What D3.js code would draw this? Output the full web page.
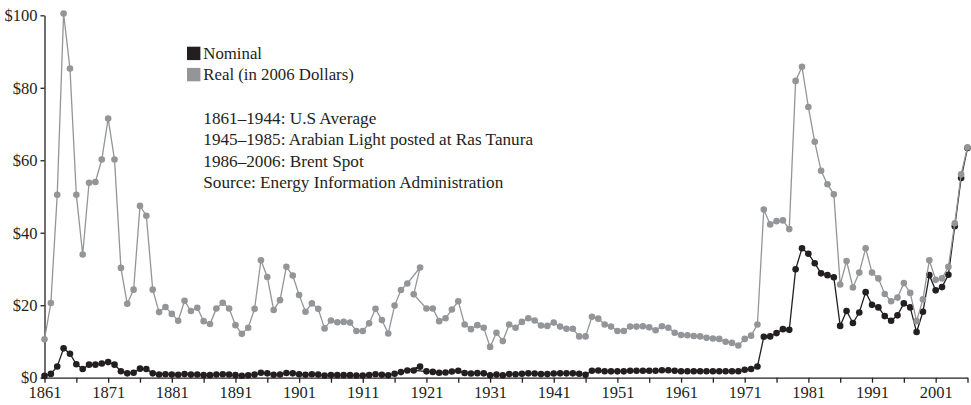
<!DOCTYPE html>
<html>
<head>
<meta charset="utf-8">
<script src="https://cdn.jsdelivr.net/npm/d3@7"></script>
<style>
  body { margin: 0; background: #fff; }
  svg { display: block; font-family: "Liberation Serif", serif; }
</style>
</head>
<body>
<svg id="chart" width="971" height="405"></svg>
<script>
// years 1861..2006
const years = d3.range(1861, 2007);

// nominal price, $/barrel
const nominal = [
  0.5, 1.05, 3.1, 8.1, 6.6, 3.7, 2.4, 3.6, 3.6, 3.9,
  4.3, 3.6, 1.8, 1.2, 1.35, 2.5, 2.4, 1.2, 0.9, 0.95,
  0.9, 0.8, 1.0, 0.85, 0.9, 0.7, 0.7, 0.9, 0.95, 0.9,
  0.7, 0.55, 0.65, 0.85, 1.35, 1.2, 0.8, 0.9, 1.3, 1.2,
  0.95, 0.8, 0.95, 0.85, 0.6, 0.75, 0.7, 0.7, 0.7, 0.6,
  0.6, 0.75, 0.95, 0.8, 0.65, 1.1, 1.55, 2.0, 2.0, 3.05,
  1.75, 1.6, 1.35, 1.45, 1.7, 1.9, 1.3, 1.15, 1.25, 1.2,
  0.65, 0.85, 0.65, 1.0, 0.95, 1.1, 1.2, 1.15, 1.0, 1.0,
  1.15, 1.2, 1.2, 1.2, 1.1, 0.8, 1.9, 2.0, 1.8, 1.75,
  1.75, 1.75, 1.9, 1.9, 1.9, 1.9, 1.9, 2.05, 2.05, 1.9,
  1.8, 1.8, 1.8, 1.8, 1.8, 1.8, 1.8, 1.8, 1.8, 1.8,
  2.2, 2.4, 3.1, 11.3, 11.4, 12.3, 13.4, 13.2, 29.9, 35.7,
  34.2, 31.6, 28.8, 28.3, 27.7, 14.3, 18.4, 15.1, 18.0, 23.6,
  20.1, 19.4, 17.0, 15.7, 17.2, 20.5, 19.4, 12.6, 18.2, 28.3,
  24.1, 25.0, 28.4, 41.8, 55.1, 63.4
];

// real price, 2006 dollars
const real = [
  10.6, 20.6, 50.5, 100.5, 85.3, 50.5, 34.0, 53.8, 54.0, 60.2,
  71.5, 60.2, 30.3, 20.4, 24.3, 47.4, 44.7, 24.3, 18.1, 19.5,
  17.6, 15.7, 21.2, 18.4, 19.3, 15.6, 14.8, 19.1, 20.7, 19.1,
  14.5, 12.1, 13.8, 19.0, 32.4, 27.8, 18.7, 21.4, 30.6, 28.2,
  22.8, 18.2, 20.5, 19.0, 13.6, 15.8, 15.3, 15.4, 15.2, 12.9,
  12.9, 15.0, 19.0, 15.9, 12.2, 19.9, 24.2, 26.0, 23.0, 30.4,
  19.1, 19.1, 15.6, 16.4, 18.8, 21.1, 14.7, 13.4, 14.5, 13.8,
  8.5, 12.4, 10.1, 14.7, 13.8, 15.4, 16.4, 15.8, 14.4, 14.3,
  15.2, 14.1, 13.5, 13.5, 11.4, 11.4, 16.8, 16.3, 14.7, 14.1,
  12.9, 12.9, 14.1, 14.1, 14.2, 13.9, 13.1, 14.2, 13.8, 12.4,
  11.8, 11.7, 11.5, 11.4, 11.0, 10.8, 10.7, 9.9, 9.6, 8.9,
  10.7, 11.6, 14.7, 46.4, 42.3, 43.2, 43.4, 41.0, 81.9, 85.8,
  74.7, 65.1, 57.1, 53.4, 50.6, 25.7, 32.2, 24.9, 29.0, 35.7,
  29.0, 27.4, 23.1, 21.1, 22.1, 26.1, 23.4, 15.6, 21.6, 32.4,
  27.0, 27.4, 30.6, 42.6, 56.1, 63.6
];

const yTicks = [0, 20, 40, 60, 80, 100];
const xTicks = d3.range(1861, 2007, 5);
const notes = [
  "1861\u20131944: U.S Average",
  "1945\u20131985: Arabian Light posted at Ras Tanura",
  "1986\u20132006: Brent Spot",
  "Source: Energy Information Administration"
];

const seriesInfo = [
  { name: "Nominal", values: nominal, color: "#231f20" },
  { name: "Real (in 2006 Dollars)", values: real, color: "#939598" }
];

const svg = d3.select("#chart");
const fontSize = 16.5;

const x = d3.scaleLinear().domain([1861, 2006]).range([44.5, 967.5]);
const y = d3.scaleLinear().domain([0, 100]).range([377.7, 15.3]);

// the source table lists 1920 ahead of 1919, so the line doubles back there
function pointsOf(values) {
  const pts = years.map((yr, i) => ({ year: yr, value: values[i] }));
  const i19 = years.indexOf(1919);
  const tmp = pts[i19]; pts[i19] = pts[i19 + 1]; pts[i19 + 1] = tmp;
  return pts;
}

// axes
const xAxis = svg.append("g")
    .attr("transform", "translate(0," + y(0) + ")")
    .call(d3.axisBottom(x)
        .tickValues(xTicks)
        .tickSize(5)
        .tickSizeOuter(0)
        .tickPadding(4)
        .tickFormat(d => (d - 1861) % 10 === 0 ? d : ""));

const yAxis = svg.append("g")
    .attr("transform", "translate(" + x(1861) + ",0)")
    .call(d3.axisLeft(y)
        .tickValues(yTicks)
        .tickSize(4)
        .tickSizeOuter(0)
        .tickPadding(3)
        .tickFormat(d => "$" + d));

[xAxis, yAxis].forEach(g => {
  g.attr("font-family", null).attr("font-size", null);
  g.select(".domain").attr("stroke", "#231f20").attr("stroke-width", 1.3);
  g.selectAll(".tick line").attr("stroke", "#231f20").attr("stroke-width", 1.3);
  g.selectAll(".tick text")
      .attr("fill", "#231f20")
      .style("font-size", fontSize + "px");
});

// series: nominal first, real on top
const line = d3.line()
    .x(d => x(d.year))
    .y(d => y(d.value));

seriesInfo.forEach(s => {
  const pts = pointsOf(s.values);
  const g = svg.append("g").attr("class", "series");
  g.append("path")
      .datum(pts)
      .attr("fill", "none")
      .attr("stroke", s.color)
      .attr("stroke-width", 1.3)
      .attr("d", line);
  g.selectAll("circle")
      .data(pts)
      .enter().append("circle")
      .attr("cx", d => x(d.year))
      .attr("cy", d => y(d.value))
      .attr("r", 3.3)
      .attr("fill", s.color);
});

// legend
const legend = svg.append("g").attr("transform", "translate(187,46.7)");
seriesInfo.forEach((s, i) => {
  legend.append("rect")
      .attr("x", 0)
      .attr("y", i * 21.2)
      .attr("width", 13.4)
      .attr("height", 13.4)
      .attr("fill", s.color);
  legend.append("text")
      .attr("x", 16.3)
      .attr("y", i * 21.2 + 12.6)
      .attr("fill", "#231f20")
      .style("font-size", "16.8px")
      .text(s.name);
});

svg.append("g")
    .selectAll("text")
    .data(notes)
    .enter().append("text")
    .attr("x", 203.3)
    .attr("y", (d, i) => 124 + i * 21.3)
    .attr("fill", "#231f20")
    .style("font-size", "17.2px")
    .text(d => d);
</script>
</body>
</html>
